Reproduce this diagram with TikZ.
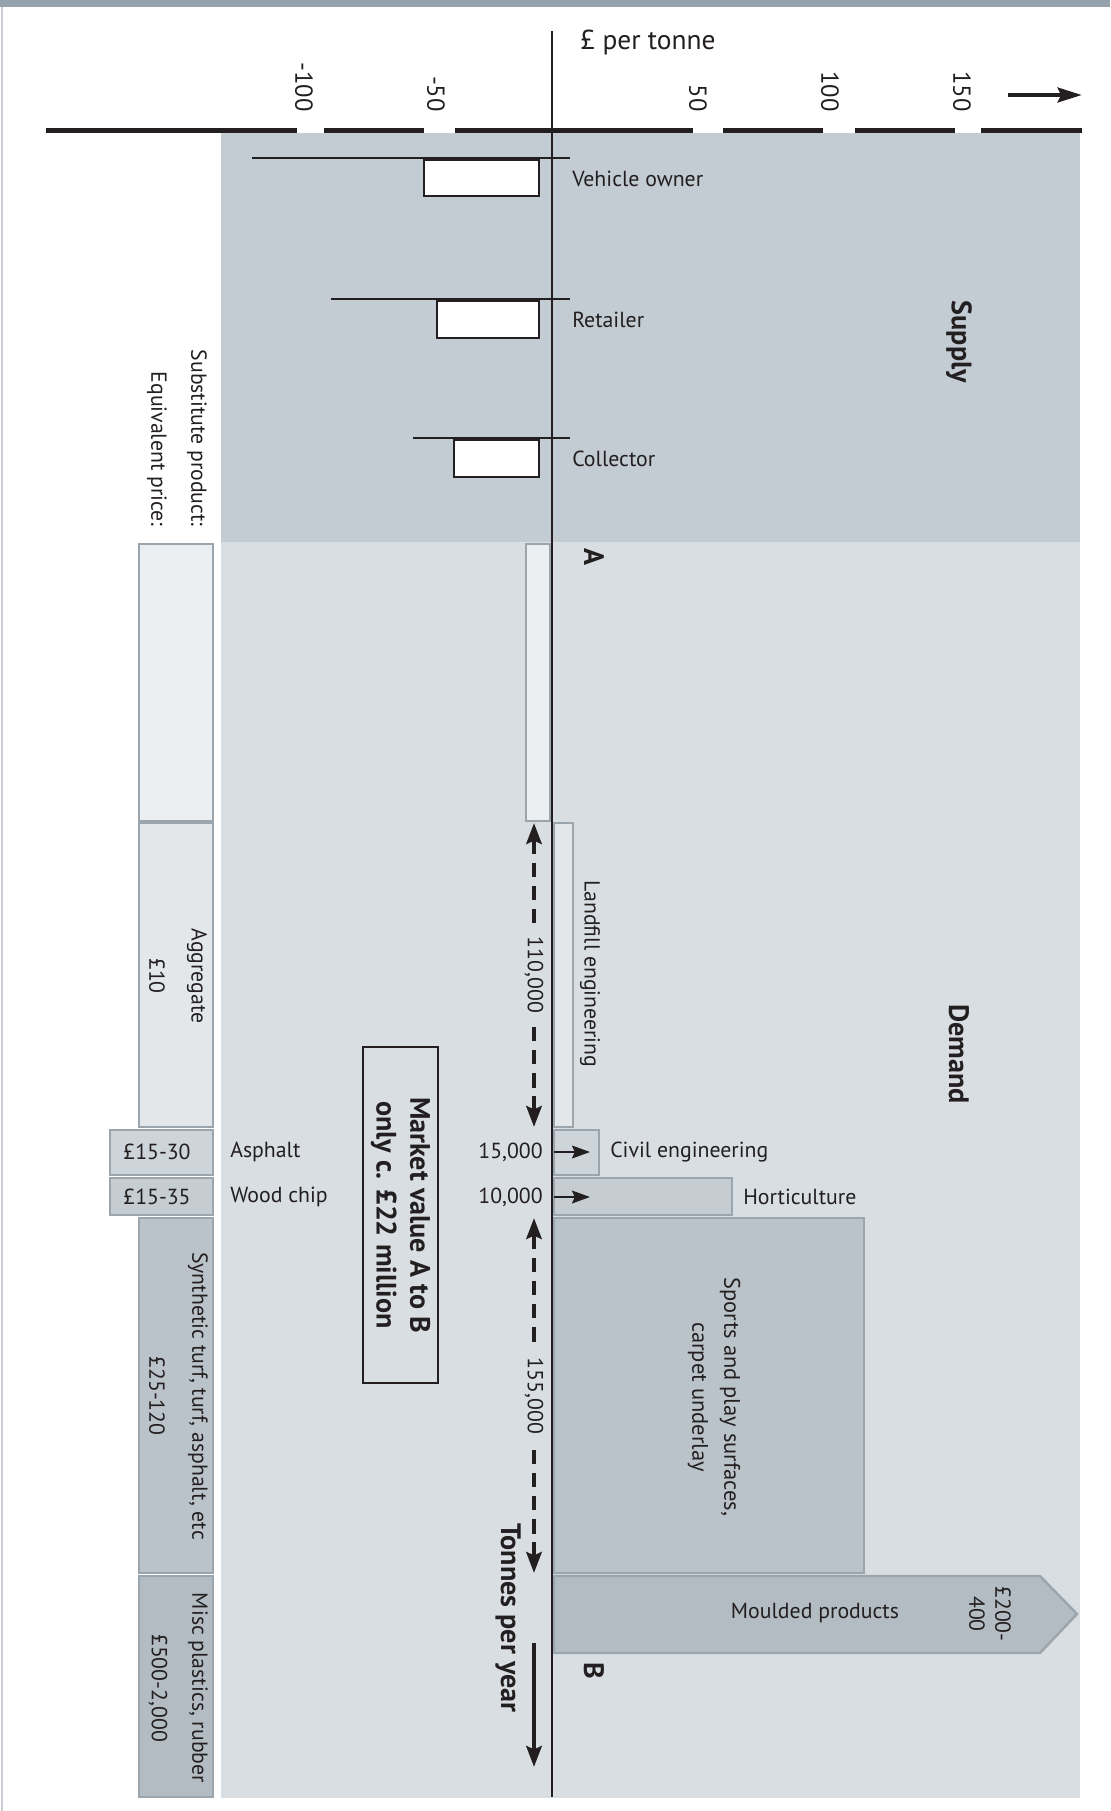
\documentclass[tikz,border=0pt]{standalone}
\usepackage{fontspec}
\setmainfont{PT Sans}
\usepackage{tikz}
\usetikzlibrary{arrows.meta,positioning}

\definecolor{bandgray}{HTML}{96A3AD}
\definecolor{framegray}{HTML}{C9CFD4}
\definecolor{supplybg}{HTML}{C3CBD3}
\definecolor{demandbg}{HTML}{D9DEE2}
\definecolor{barline}{HTML}{9AA5AE}
\definecolor{ink}{HTML}{231F20}
\definecolor{shadeA}{HTML}{EBEFF2}
\definecolor{shadeB}{HTML}{E3E7EA}
\definecolor{shadeC}{HTML}{CDD4DA}
\definecolor{shadeD}{HTML}{C5CDD3}
\definecolor{shadeE}{HTML}{BBC3CA}
\definecolor{shadeF}{HTML}{B3BCC3}

\begin{document}
\begin{tikzpicture}[x=0.25mm,y=-0.25mm,
  lbl/.style={font=\fontsize{15.5}{18}\selectfont, text=ink, inner sep=0pt},
  vlbl/.style={lbl, rotate=-90},
  ticklbl/.style={vlbl, font=\fontsize{17.5}{20}\selectfont},
  blbl/.style={font=\fontsize{20}{24}\selectfont\bfseries, text=ink, inner sep=0pt, rotate=-90},
  bar/.style={draw=barline, line width=0.6mm},
  pricebox/.style={draw=ink, line width=0.5mm, fill=white},
  priceline/.style={draw=ink, line width=0.5mm},
  dimdash/.style={ink, line width=1.2mm, dash pattern=on 3.6mm off 2.2mm, {Stealth[length=5.2mm,width=3.8mm,inset=0.8mm]}-},
  flowarrow/.style={ink, line width=0.55mm, -{Stealth[length=4.5mm,width=3.2mm,inset=0.7mm]}}
]
\useasboundingbox (0,0) rectangle (1110,1811);
\fill[white] (0,0) rectangle (1110,1811);
\fill[bandgray] (0,0) rectangle (1110,7);
\draw[framegray, line width=0.5mm] (2,7) -- (2,1811);

\fill[supplybg] (221,133) rectangle (1080,542);
\fill[demandbg] (221,542) rectangle (1080,1798);

\draw[bar, fill=shadeA] (139,544) rectangle (213,821);
\draw[bar, fill=shadeB] (139,823) rectangle (213,1127);
\draw[bar, fill=shadeC] (110,1130) rectangle (213,1175);
\draw[bar, fill=shadeD] (110,1178) rectangle (213,1215);
\draw[bar, fill=shadeE] (139,1218) rectangle (213,1573);
\draw[bar, fill=shadeF] (139,1576) rectangle (213,1797);

\draw[bar, fill=shadeA] (526,544) rectangle (550,821);
\draw[bar, fill=shadeB] (554,823) rectangle (573,1127);
\draw[bar, fill=shadeC] (554,1130) rectangle (599,1175);
\draw[bar, fill=shadeD] (554,1178) rectangle (732,1215);
\draw[bar, fill=shadeE] (554,1218) rectangle (864,1573);
\draw[bar, fill=shadeF] (554,1576) -- (1040,1576) -- (1077,1614) -- (1040,1653) -- (554,1653) -- cycle;

\draw[priceline] (252,158) -- (570,158);
\draw[pricebox] (424,160) rectangle (539,196);
\draw[priceline] (331,299) -- (570,299);
\draw[pricebox] (437,301) rectangle (539,338);
\draw[priceline] (413,438) -- (570,438);
\draw[pricebox] (454,440) rectangle (539,477);

\draw[ink, line width=1.25mm] (46,130) -- (297,130) (324,130) -- (424,130) (455,130) -- (693,130)
  (723,130) -- (823,130) (855,130) -- (955,130) (981,130) -- (1082,130);
\draw[ink, line width=0.65mm] (552,31) -- (552,1797);
\coordinate (pstart) at (1008,95);
\coordinate (pend) at (1082,95);
\draw[ink, line width=1.2mm, -{Stealth[length=6mm,width=3.6mm,inset=0.8mm]}] (pstart) -- (pend);

\node[lbl, anchor=west, font=\fontsize{19.5}{22}\selectfont] (unit) at (580,42) {£ per tonne};
\foreach \v/\x in {-100/304,-50/436,50/698,100/830,150/962}
  \node[ticklbl, anchor=east] (tick\x) at (\x,112) {\v};

\node[lbl, anchor=west] (veh) at (572,179) {Vehicle owner};
\node[lbl, anchor=west] (ret) at (572,320) {Retailer};
\node[lbl, anchor=west] (col) at (572,459) {Collector};
\node[blbl] (supply) at (959,342) {Supply};
\node[blbl] (demand) at (959,1054) {Demand};

\node[vlbl, anchor=east] (subst) at (197,527) {Substitute product:};
\node[vlbl, anchor=east] (equiv) at (157,527) {Equivalent price:};
\node[vlbl] (aggr) at (197,976) {Aggregate};
\node[vlbl] (aggrp) at (157,976) {£10};
\node[lbl] (asphp) at (157,1152) {£15-30};
\node[lbl] (woodp) at (157,1197) {£15-35};
\node[vlbl] (synth) at (198,1396) {Synthetic turf, turf, asphalt, etc};
\node[vlbl] (synthp) at (157,1396) {£25-120};
\node[vlbl] (misc) at (198,1688) {Misc plastics, rubber};
\node[vlbl] (miscp) at (158,1688) {£500-2,000};
\node[lbl, anchor=west] (asph) at (230,1152) {Asphalt};
\node[lbl, anchor=west] (wood) at (230,1197) {Wood chip};

\node[blbl] (ptA) at (594,557) {A};
\node[blbl] (ptB) at (594,1671) {B};
\node[vlbl] (landfill) at (590,974) {Landfill engineering};
\node[lbl, anchor=west] (civil) at (610,1152) {Civil engineering};
\node[lbl, anchor=west] (horti) at (743,1197) {Horticulture};
\node[vlbl, align=center, font=\fontsize{16}{22.7}\selectfont] (sports) at (714,1397) {Sports and play surfaces,\\carpet underlay};
\node[lbl] (mould) at (815,1613) {Moulded products};
\node[vlbl, align=center, font=\fontsize{15.5}{18.5}\selectfont] (mouldp) at (990,1614) {£200-\\400};

\node[lbl, anchor=east] (t15) at (543,1152) {15,000};
\node[lbl, anchor=east] (t10) at (543,1197) {10,000};
\coordinate (c15a) at (554,1152);
\coordinate (c15b) at (590,1152);
\coordinate (c10a) at (554,1197);
\coordinate (c10b) at (590,1197);
\draw[flowarrow] (c15a) -- (c15b);
\draw[flowarrow] (c10a) -- (c10b);

\coordinate (d1top) at (534,823);
\coordinate (d1bot) at (534,1127);
\coordinate (d2top) at (534,1218);
\coordinate (d2bot) at (534,1573);
\node[vlbl, inner xsep=2.8mm] (t110) at (534,975) {110,000};
\node[vlbl, inner xsep=2.8mm] (t155) at (534,1396) {155,000};
\draw[dimdash] (d1top) -- (t110.west);
\draw[dimdash] (d1bot) -- (t110.east);
\draw[dimdash] (d2top) -- (t155.west);
\draw[dimdash] (d2bot) -- (t155.east);

\node[blbl] (tonnes) at (508,1618) {Tonnes per year};
\coordinate (tstart) at (534,1643);
\coordinate (tend) at (534,1767);
\draw[ink, line width=1.1mm, -{Stealth[length=5.2mm,width=3.8mm,inset=0.8mm]}] (tstart) -- (tend);

\node[draw=ink, line width=0.5mm, minimum width=18.75mm, minimum height=84mm] (mkt) at (400.5,1215) {};
\node[blbl, align=center] (mkttext) at (mkt.center) {Market value A to B\\only c. £22 million};
\end{tikzpicture}
\end{document}
